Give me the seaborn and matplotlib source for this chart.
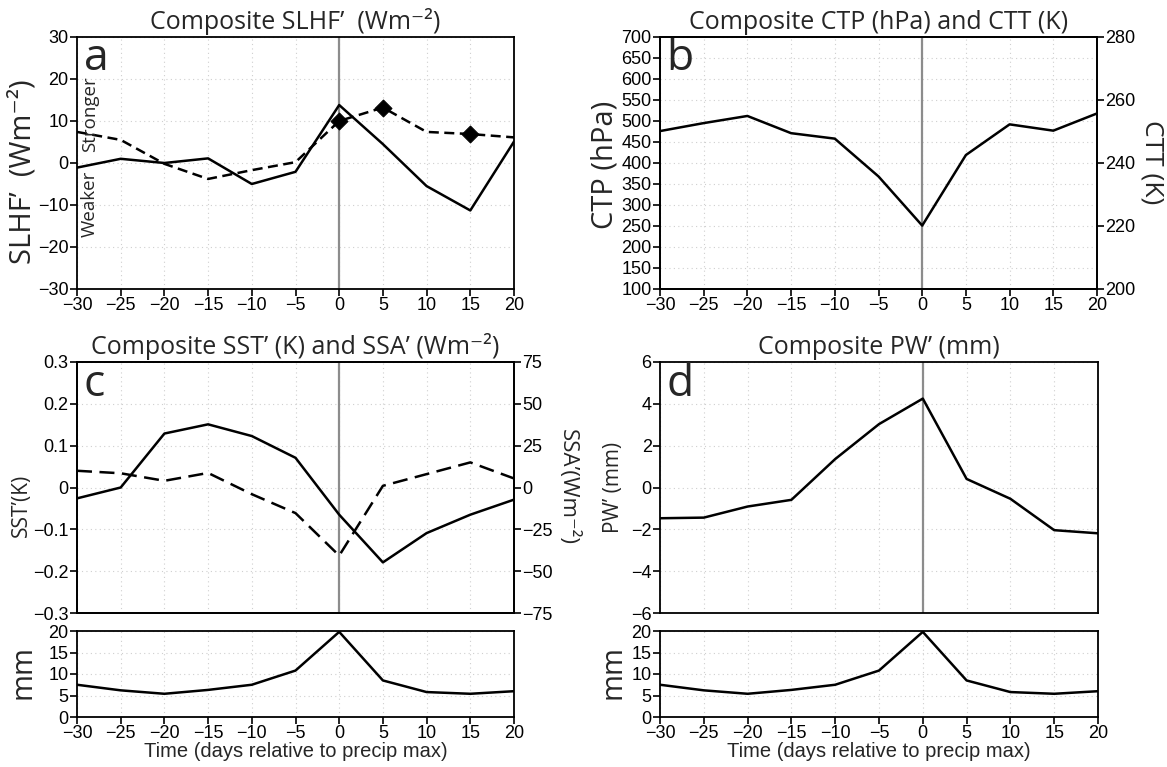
import numpy as np
import pandas as pd
import matplotlib
matplotlib.use("Agg")
import matplotlib.pyplot as plt
import seaborn as sns
from matplotlib.ticker import FixedLocator, FuncFormatter

# ---------------- data ----------------
days = [-30, -25, -20, -15, -10, -5, 0, 5, 10, 15, 20]
slhf_solid = [-1.1, 1.0, 0.0, 1.1, -5.0, -2.1, 13.8, 4.5, -5.5, -11.3, 5.1]
slhf_dash = [7.4, 5.5, -0.2, -3.8, -1.7, 0.2, 10.0, 13.2, 7.4, 6.9, 6.1]
slhf_marker_days = [0, 5, 15]
ctp = [476, 495, 512, 471, 458, 368, 251, 419, 492, 477, 518]
sst = [-0.026, 0.0, 0.129, 0.151, 0.123, 0.071, -0.065, -0.179, -0.109, -0.065, -0.029]
ssa = [10.0, 8.5, 4.0, 8.7, -4.0, -15.3, -40.7, 1.0, 8.0, 15.0, 5.4]
pw = [-1.47, -1.44, -0.91, -0.59, 1.36, 3.03, 4.25, 0.41, -0.54, -2.04, -2.19]
precip = [7.5, 6.2, 5.4, 6.3, 7.5, 10.8, 19.8, 8.5, 5.8, 5.4, 6.0]

xticks = [-30, -25, -20, -15, -10, -5, 0, 5, 10, 15, 20]

sns.set_theme(style="ticks")
plt.rcParams['font.family'] = ['Liberation Sans', 'DejaVu Sans']
plt.rcParams['axes.unicode_minus'] = True

TFONT = ['Open Sans', 'DejaVu Sans']   # humanist titles/labels
NFONT = ['Liberation Sans', 'DejaVu Sans']

W, H = 1167, 767
fig = plt.figure(figsize=(W / 100, H / 100), dpi=100)


def rect(l, t, r, b):
    return [l / W, 1 - b / H, (r - l) / W, (b - t) / H]


def ftext(x, y, s, **kw):
    fig.text(x / W, 1 - y / H, s, ha='center', va='center', **kw)


def fmt(v, pos=None):
    s = f"{v:g}"
    return s.replace('-', '\u2212')


def style_ax(ax, ylim, yticks, xlabels=True, vline=True):
    ax.set_xlim(-30, 20)
    ax.set_ylim(*ylim)
    ax.xaxis.set_major_locator(FixedLocator(xticks))
    ax.yaxis.set_major_locator(FixedLocator(yticks))
    ax.yaxis.set_major_formatter(FuncFormatter(fmt))
    ax.xaxis.set_major_formatter(FuncFormatter(fmt))
    for s in ax.spines.values():
        s.set_linewidth(1.3)
        s.set_color('black')
    ax.grid(True, linestyle=(0, (1, 3)), color='#cfcfcf', linewidth=0.8)
    ax.tick_params(axis='both', direction='out', length=5, width=1.2,
                   labelsize=13, colors='black', pad=1)
    if not xlabels:
        ax.tick_params(axis='x', length=0, labelbottom=False)
    if vline:
        ax.axvline(0, color='#8c8c8c', linewidth=1.6, zorder=1)
    for lab in ax.get_xticklabels() + ax.get_yticklabels():
        lab.set_family(NFONT)
    ax.set_xlabel('')
    ax.set_ylabel('')


def style_twin(ax2, ylim, yticks):
    ax2.set_ylim(*ylim)
    ax2.yaxis.set_major_locator(FixedLocator(yticks))
    ax2.yaxis.set_major_formatter(FuncFormatter(fmt))
    ax2.tick_params(axis='y', direction='out', length=5, width=1.2, labelsize=13,
                    colors='black', pad=1)
    for lab in ax2.get_yticklabels():
        lab.set_family(NFONT)
    ax2.set_ylabel('')
    for s in ax2.spines.values():
        s.set_linewidth(1.3)
        s.set_color('black')


df = pd.DataFrame({'day': days, 'slhf_solid': slhf_solid, 'slhf_dash': slhf_dash,
                   'ctp': ctp, 'sst': sst, 'ssa': ssa, 'pw': pw, 'precip': precip})

TITLE_KW = dict(family=TFONT, fontsize=18, pad=6)
LETTER_KW = dict(family=TFONT, fontsize=32, va='top', ha='left')

# ---------------- panel a ----------------
ax_a = fig.add_axes(rect(77, 37, 514, 289))
sns.lineplot(data=df, x='day', y='slhf_solid', ax=ax_a, color='black', linewidth=1.8, zorder=3)
sns.lineplot(data=df, x='day', y='slhf_dash', ax=ax_a, color='black', linewidth=1.8,
             linestyle=(0, (4, 2.2)), zorder=3)
mk = df[df['day'].isin(slhf_marker_days)]
sns.scatterplot(data=mk, x='day', y='slhf_dash', ax=ax_a, marker='D', color='black',
                s=75, edgecolor='black', zorder=4)
style_ax(ax_a, (-30, 30), [-30, -20, -10, 0, 10, 20, 30])
ax_a.set_title('Composite SLHF’  (Wm\u207b\u00b2)', **TITLE_KW)
ax_a.text(0.015, 1.0, 'a', transform=ax_a.transAxes, **LETTER_KW)
ax_a.text(-28.55, 11.7, 'Stronger', rotation=90, family=TFONT, fontsize=13.5,
          va='center', ha='center')
ax_a.text(-28.55, -9.8, 'Weaker', rotation=90, family=TFONT, fontsize=13.5,
          va='center', ha='center')
ftext(23, 172, 'SLHF’  (Wm\u207b\u00b2)', family=TFONT, fontsize=21, rotation=90)

# ---------------- panel b ----------------
ax_b = fig.add_axes(rect(660, 37, 1097, 289))
sns.lineplot(data=df, x='day', y='ctp', ax=ax_b, color='black', linewidth=1.8, zorder=3)
style_ax(ax_b, (100, 700), list(range(100, 701, 50)))
ax_b.set_title('Composite CTP (hPa) and CTT (K)', **TITLE_KW)
ax_b.text(0.015, 1.0, 'b', transform=ax_b.transAxes, **LETTER_KW)
ax_b2 = ax_b.twinx()
style_twin(ax_b2, (200, 280), [200, 220, 240, 260, 280])
ftext(605, 165, 'CTP (hPa)', family=TFONT, fontsize=21, rotation=90)
ftext(1152, 162, 'CTT (K)', family=TFONT, fontsize=19, rotation=270)

# ---------------- panel c ----------------
ax_c = fig.add_axes(rect(77, 362, 514, 613))
sns.lineplot(data=df, x='day', y='sst', ax=ax_c, color='black', linewidth=1.8, zorder=3)
style_ax(ax_c, (-0.3, 0.3), [-0.3, -0.2, -0.1, 0, 0.1, 0.2, 0.3], xlabels=False)
ax_c.set_title('Composite SST’ (K) and SSA’ (Wm\u207b\u00b2)', **TITLE_KW)
ax_c.text(0.015, 1.0, 'c', transform=ax_c.transAxes, **LETTER_KW)
ax_c2 = ax_c.twinx()
sns.lineplot(data=df, x='day', y='ssa', ax=ax_c2, color='black', linewidth=1.8,
             linestyle=(0, (6, 3)), zorder=3)
style_twin(ax_c2, (-75, 75), [-75, -50, -25, 0, 25, 50, 75])
ftext(21, 505, 'SST’(K)', family=TFONT, fontsize=15, rotation=90)
ftext(568, 487, 'SSA’(Wm\u207b\u00b2)', family=TFONT, fontsize=16, rotation=270)

# ---------------- panel d ----------------
ax_d = fig.add_axes(rect(660, 362, 1098, 613))
sns.lineplot(data=df, x='day', y='pw', ax=ax_d, color='black', linewidth=1.8, zorder=3)
style_ax(ax_d, (-6, 6), [-6, -4, -2, 0, 2, 4, 6], xlabels=False)
ax_d.set_title('Composite PW’ (mm)', **TITLE_KW)
ax_d.text(0.015, 1.0, 'd', transform=ax_d.transAxes, **LETTER_KW)
ftext(613, 487, 'PW’ (mm)', family=TFONT, fontsize=15, rotation=90)

# ---------------- precip panels ----------------
for rc, lx in [((77, 631, 514, 717), 23), ((660, 631, 1098, 717), 613)]:
    axp = fig.add_axes(rect(*rc))
    sns.lineplot(data=df, x='day', y='precip', ax=axp, color='black', linewidth=1.8, zorder=3)
    style_ax(axp, (0, 20), [0, 5, 10, 15, 20], vline=False)
    axp.set_xlabel('Time (days relative to precip max)', family=NFONT, fontsize=14.5,
                   labelpad=0)
    ftext(lx, 672, 'mm', family=TFONT, fontsize=21, rotation=90)

fig.savefig('out.png', dpi=100)
